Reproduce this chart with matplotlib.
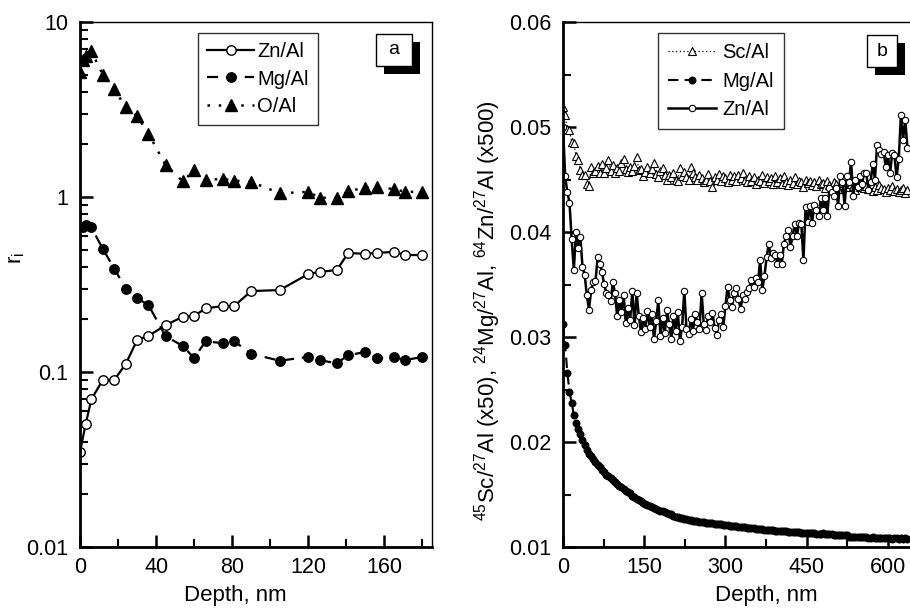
import numpy as np
import matplotlib
matplotlib.use("Agg")
import matplotlib.pyplot as plt
from matplotlib.patches import Rectangle
from matplotlib.ticker import MultipleLocator, LogLocator, NullFormatter, FixedLocator, FixedFormatter, FuncFormatter

plt.rcParams['font.family'] = ['Liberation Sans', 'DejaVu Sans']
plt.rcParams['mathtext.fontset'] = 'custom'
plt.rcParams['mathtext.rm'] = 'Liberation Sans'
plt.rcParams['mathtext.it'] = 'Liberation Sans:italic'
plt.rcParams['mathtext.default'] = 'regular'

# ---------------- panel a data ----------------
zn_a_depth = [0, 3, 6, 12, 18, 24, 30, 36, 45, 54, 60, 66, 75, 81, 90, 105, 120, 126, 135, 141, 150, 156, 165, 171, 180]
zn_a_vals = [0.035, 0.0505, 0.070, 0.090, 0.090, 0.111, 0.152, 0.161, 0.185, 0.207, 0.209, 0.231, 0.238, 0.238,
             0.29, 0.294, 0.363, 0.373, 0.383, 0.479, 0.473, 0.479, 0.486, 0.466, 0.466]
mg_a_depth = [1.5, 3, 6, 12, 18, 24, 30, 36, 45, 54, 60, 66, 75, 81, 90, 105, 120, 126, 135, 141, 150, 156, 165, 171, 180]
mg_a_vals = [0.67, 0.69, 0.67, 0.505, 0.39, 0.30, 0.264, 0.241, 0.16, 0.141, 0.12, 0.150, 0.146, 0.150, 0.127,
             0.116, 0.122, 0.117, 0.112, 0.125, 0.130, 0.120, 0.122, 0.117, 0.122]
o_a_depth = [0, 1.5, 3, 6, 12, 18, 24, 30, 36, 45, 54, 60, 66, 75, 81, 90, 105, 120, 126, 135, 141, 150, 156, 165, 171, 180]
o_a_vals = [5.2, 6.1, 6.4, 6.8, 5.0, 4.15, 3.25, 2.9, 2.3, 1.52, 1.23, 1.42, 1.25, 1.27, 1.24, 1.22, 1.05, 1.07,
            0.99, 0.99, 1.08, 1.13, 1.14, 1.11, 1.07, 1.07]

# ---------------- panel b data (values x 1e-3, sampled every 4 nm) ----------------
step_b = 4.0
zn_b_vals = [
    50.0, 45.3, 43.8, 42.8, 39.3, 36.4, 40.0, 38.5, 39.5, 36.7,
    35.9, 34.0, 32.6, 34.5, 35.2, 35.3, 37.6, 37.0, 36.2, 35.0,
    34.2, 34.0, 33.4, 35.2, 34.2, 32.0, 33.5, 32.4, 34.0, 31.3,
    32.8, 31.6, 34.4, 31.1, 34.2, 32.0, 30.5, 31.8, 30.8, 32.5,
    31.0, 32.2, 29.8, 31.5, 33.5, 30.1, 31.8, 30.4, 32.6, 31.2,
    29.8, 32.0, 30.6, 32.4, 29.6, 31.0, 34.4, 30.8, 30.3, 31.7,
    30.6, 32.2, 31.4, 30.8, 34.2, 31.2, 30.7, 32.0, 31.4, 32.3,
    30.9, 30.2, 31.6, 32.2, 31.0, 33.0, 34.8, 33.5, 32.9, 34.2,
    34.7, 33.6, 32.7, 34.0, 33.6, 34.3, 34.7, 35.4, 34.8, 35.6,
    35.2, 37.3, 34.5, 35.8, 37.6, 38.9, 37.5, 38.0, 37.8, 37.0,
    37.8, 37.0, 38.9, 39.6, 40.2, 38.6, 39.6, 40.8, 39.6, 40.9,
    40.8, 37.3, 42.4, 41.0, 42.5, 40.9, 42.6, 42.1, 41.5, 43.2,
    42.1, 43.2, 41.5, 44.2, 43.8, 43.4, 44.2, 42.5, 45.3, 44.8,
    42.5, 45.3, 44.8, 46.7, 43.4, 45.0, 44.3, 45.3, 44.6, 45.6,
    45.6, 44.0, 44.8, 46.5, 45.0, 48.3, 47.8, 47.4, 47.6, 46.2,
    47.3, 45.6, 47.5, 47.3, 45.2, 47.0, 51.1, 48.8, 50.7, 48.0,
]
sc_b_vals = [
    51.9, 51.1, 49.8, 49.7, 48.6, 48.5, 47.2, 46.9, 45.9, 45.4,
    45.4, 44.6, 44.4, 46.2, 45.6, 45.8, 46.3, 45.6, 46.5, 45.6,
    46.1, 46.9, 45.8, 46.4, 45.6, 46.1, 45.8, 46.6, 47.0, 46.0,
    45.7, 46.2, 45.8, 46.3, 47.1, 45.9, 46.0, 45.3, 45.7, 46.2,
    45.6, 46.0, 46.6, 45.5, 45.2, 45.8, 46.1, 45.4, 45.0, 45.4,
    45.2, 45.6, 45.0, 44.9, 46.1, 45.3, 45.7, 45.2, 45.0, 46.2,
    45.6, 45.2, 45.0, 45.4, 45.1, 44.8, 45.0, 45.5, 44.9, 44.3,
    45.2, 45.0, 45.5, 44.9, 45.3, 45.1, 44.8, 45.4, 45.0, 45.3,
    44.9, 45.4, 45.1, 45.6, 45.0, 44.8, 45.3, 44.9, 45.2, 44.6,
    45.0, 44.9, 45.4, 44.7, 45.2, 44.9, 45.1, 44.6, 45.3, 44.8,
    45.1, 44.6, 45.3, 44.8, 44.5, 45.0, 44.7, 45.2, 44.6, 44.9,
    44.8, 44.3, 45.0, 44.7, 44.9, 44.5, 44.8, 44.4, 45.0, 44.6,
    44.7, 44.2, 44.9, 44.5, 44.3, 44.8, 44.6, 44.1, 44.5, 44.7,
    44.4, 44.8, 44.3, 44.6, 44.4, 44.0, 44.5, 44.3, 44.7, 44.2,
    44.4, 44.1, 44.6, 43.9, 44.3, 44.0, 44.5, 44.2, 44.1, 43.8,
    44.2, 44.0, 44.4, 43.9, 44.1, 43.8, 44.0, 44.2, 43.7, 44.0,
]
mg_b_vals = [
    31.2, 29.2, 26.6, 24.8, 23.7, 22.6, 21.8, 21.2, 20.8, 20.2,
    19.7, 19.2, 18.9, 18.7, 18.4, 18.1, 17.8, 17.6, 17.3, 17.1,
    16.9, 16.8, 16.6, 16.4, 16.2, 16.0, 15.8, 15.7, 15.5, 15.3,
    15.2, 15.1, 14.9, 14.8, 14.6, 14.5, 14.4, 14.2, 14.1, 14.0,
    13.9, 13.8, 13.7, 13.6, 13.5, 13.4, 13.4, 13.3, 13.2, 13.1,
    13.1, 13.0, 12.9, 12.9, 12.8, 12.8, 12.7, 12.7, 12.6, 12.6,
    12.5, 12.5, 12.5, 12.4, 12.4, 12.4, 12.3, 12.3, 12.3, 12.3,
    12.2, 12.2, 12.2, 12.2, 12.1, 12.1, 12.1, 12.0, 12.0, 12.0,
    12.0, 11.9, 11.9, 11.9, 11.9, 11.8, 11.8, 11.8, 11.8, 11.7,
    11.7, 11.7, 11.7, 11.6, 11.6, 11.6, 11.6, 11.6, 11.5, 11.5,
    11.5, 11.5, 11.5, 11.5, 11.4, 11.4, 11.4, 11.4, 11.4, 11.4,
    11.3, 11.3, 11.3, 11.3, 11.3, 11.3, 11.3, 11.2, 11.2, 11.2,
    11.3, 11.2, 11.2, 11.2, 11.2, 11.1, 11.1, 11.1, 11.1, 11.1,
    11.1, 11.1, 11.0, 11.0, 11.0, 11.0, 11.0, 11.0, 11.0, 11.0,
    11.0, 10.9, 10.9, 11.0, 10.9, 10.9, 10.9, 10.9, 10.9, 10.9,
    10.9, 10.9, 10.8, 10.9, 10.9, 10.8, 10.9, 10.8, 10.9, 10.8,
]

zn_b = np.array(zn_b_vals) * 1e-3
sc_b = np.array(sc_b_vals) * 1e-3
mg_b = np.array(mg_b_vals) * 1e-3
depth_zn_b = np.arange(len(zn_b)) * step_b
depth_sc_b = np.arange(len(sc_b)) * step_b
depth_mg_b = np.arange(len(mg_b)) * step_b

W, H = 910, 608
fig = plt.figure(figsize=(W / 100, H / 100), dpi=100)

def px_axes(l, t, r, b):
    return fig.add_axes([l / W, 1 - b / H, (r - l) / W, (b - t) / H])

axA = px_axes(80, 22, 432, 547)
axB = px_axes(563, 22, 915, 547)

TFS = 15.5   # tick labels
AFS = 16     # axis labels
LFS = 14.5   # legend

def style(ax):
    ax.spines['left'].set_linewidth(2.0)
    ax.spines['bottom'].set_linewidth(2.0)
    ax.spines['top'].set_linewidth(1.0)
    ax.spines['right'].set_linewidth(1.0)
    ax.tick_params(which='both', direction='in', top=False, right=False, labelsize=TFS)
    ax.tick_params(axis='x', which='both', pad=7)
    ax.tick_params(axis='y', which='both', pad=8.5)
    ax.tick_params(which='major', length=9, width=1.8)
    ax.tick_params(which='minor', length=6, width=1.5)

def legend(ax, anchor, hl, ls, bp, htp):
    lg = ax.legend(loc='upper left', bbox_to_anchor=anchor, borderaxespad=0, fontsize=LFS,
                   frameon=True, fancybox=False, edgecolor='black', handlelength=hl,
                   handletextpad=htp, labelspacing=ls, borderpad=bp)
    lg.get_frame().set_linewidth(1.0)
    return lg

def tag(ax, x0, y0, x1, y1, dx, dy, txt):
    ax.add_patch(Rectangle((x0 + dx, y0 - dy), x1 - x0, y1 - y0, transform=ax.transAxes,
                           facecolor='black', edgecolor='black', lw=0, zorder=5, clip_on=False))
    ax.add_patch(Rectangle((x0, y0), x1 - x0, y1 - y0, transform=ax.transAxes,
                           facecolor='white', edgecolor='black', lw=1.0, zorder=6, clip_on=False))
    ax.text((x0 + x1) / 2, (y0 + y1) / 2, txt, transform=ax.transAxes, ha='center', va='center',
            fontsize=14, zorder=7)

# ---- panel a ----
axA.plot(zn_a_depth, zn_a_vals, '-', color='black', lw=1.6, marker='o', ms=6.8,
         mfc='white', mec='black', mew=1.0, label='Zn/Al')
axA.plot(mg_a_depth, mg_a_vals, color='black', lw=1.6, ls=(0, (5, 3.5)), marker='o', ms=6.8,
         mfc='black', mec='black', label='Mg/Al')
axA.plot(o_a_depth, o_a_vals, color='black', lw=1.8, ls=(0, (1, 3.5)), marker='^', ms=8,
         mfc='black', mec='black', label='O/Al')
axA.set_yscale('log')
axA.set_ylim(0.01, 10)
axA.set_xlim(0, 185)
axA.xaxis.set_major_locator(MultipleLocator(40))
axA.xaxis.set_minor_locator(MultipleLocator(20))
axA.yaxis.set_major_locator(FixedLocator([0.01, 0.1, 1, 10]))
axA.yaxis.set_major_formatter(FixedFormatter(['0.01', '0.1', '1', '10']))
axA.yaxis.set_minor_locator(LogLocator(base=10, subs=np.arange(2, 10), numticks=20))
axA.yaxis.set_minor_formatter(NullFormatter())
style(axA)
axA.set_xlabel('Depth, nm', fontsize=AFS)
axA.xaxis.set_label_coords((235 - 80) / 352, -0.072)
axA.set_ylabel('r$_i$', fontsize=AFS)
axA.yaxis.set_label_coords(-0.15, 0.55)
legend(axA, (0.335, 0.979), hl=2.35, ls=0.42, bp=0.45, htp=0.15)
tag(axA, (376 - 80) / 352, (547 - 66) / 525, (412 - 80) / 352, (547 - 34) / 525, 8 / 352, 8 / 525, 'a')

# ---- panel b ----
axB.plot(depth_sc_b, sc_b, color='black', lw=0.9, ls=(0, (1, 2)), marker='^', ms=6, mfc='white',
         mec='black', mew=0.8, label='Sc/Al')
axB.plot(depth_mg_b, mg_b, color='black', lw=1.5, ls=(0, (5, 3)), marker='o', ms=5.2, mfc='black',
         mec='black', mew=0.5, label='Mg/Al')
axB.plot(depth_zn_b, zn_b, color='black', lw=1.8, ls='-', marker='o', ms=4.6, mfc='white',
         mec='black', mew=0.8, label='Zn/Al')
axB.set_xlim(0, 650)
axB.set_ylim(0.01, 0.06)
axB.xaxis.set_major_locator(MultipleLocator(150))
axB.xaxis.set_minor_locator(MultipleLocator(75))
axB.yaxis.set_major_locator(MultipleLocator(0.01))
axB.yaxis.set_minor_locator(MultipleLocator(0.005))
axB.yaxis.set_major_formatter(FuncFormatter(lambda v, p: f'{v:.2f}'))
style(axB)
axB.set_xlabel('Depth, nm', fontsize=AFS)
axB.xaxis.set_label_coords((766 - 563) / 352, -0.073)
axB.set_ylabel('$^{45}$Sc/$^{27}$Al (x50), $^{24}$Mg/$^{27}$Al, $^{64}$Zn/$^{27}$Al (x500)', fontsize=AFS)
axB.yaxis.set_label_coords((503 - 563) / 352, 0.45)
legend(axB, (0.27, 0.979), hl=2.4, ls=0.48, bp=0.5, htp=0.3)
tag(axB, (867 - 563) / 352, (547 - 67) / 525, (897 - 563) / 352, (547 - 35) / 525, 8 / 352, 8 / 525, 'b')

fig.savefig('out.png', dpi=100)
